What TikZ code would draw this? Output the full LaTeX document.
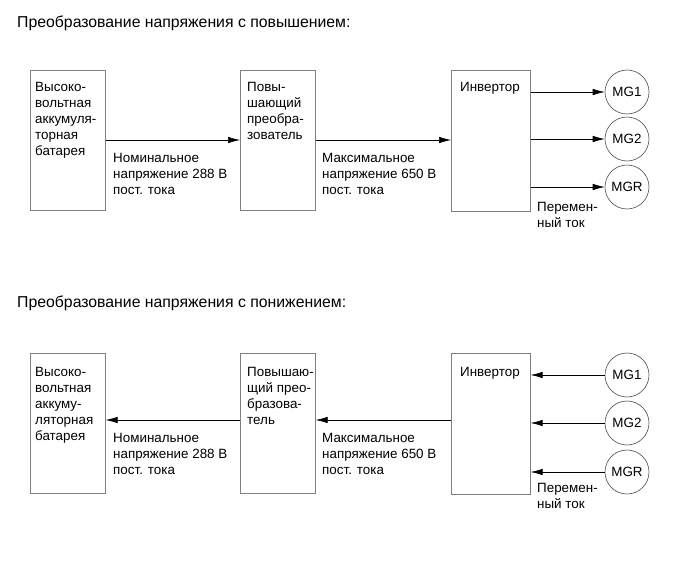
\documentclass[tikz,border=0pt]{standalone}
\usepackage{fontspec}
\setmainfont{Liberation Sans}
\usetikzlibrary{arrows.meta}
\begin{document}
\begin{tikzpicture}[x=1pt,y=-1pt,
 box/.style={draw=black!50, line width=0.7pt, minimum width=75pt, minimum height=140pt, inner sep=0pt, anchor=north west},
 mg/.style={draw=black!70, line width=0.6pt, circle, minimum size=44pt, inner sep=0pt, font=\fontsize{13.4}{14}\selectfont},
 txt/.style={anchor=north west, align=left, inner sep=0pt, font=\fontsize{13.4}{16}\selectfont},
 ttl/.style={anchor=north west, inner sep=0pt, font=\fontsize{15.8}{17}\selectfont},
 conn/.style={line width=0.6pt, -{Latex[length=12pt,width=6.5pt]}},
 connr/.style={line width=0.6pt, {Latex[length=12pt,width=6.5pt]}-}
]
\useasboundingbox (0,0) rectangle (690,562);

% ---------- Upper diagram ----------
\node[ttl] (t1) at (17,16) {Преобразование напряжения с повышением:};

\node[box] (bat1) at (30,70) {};
\node[box] (boost1) at (240,70) {};
\node[box, minimum width=79pt, minimum height=141pt] (inv1) at (451,70) {};

\node[txt] (bat1t) at (35,82) {Высоко-\\вольтная\\аккумуля-\\торная\\батарея};
\node[txt] (boost1t) at (247,82) {Повы-\\шающий\\преобра-\\зователь};
\node[txt] (inv1t) at (460,82) {Инвертор};

\node[mg] (mg1a) at (627,92) {MG1};
\node[mg] (mg2a) at (627,139) {MG2};
\node[mg] (mgra) at (627,187) {MGR};

\draw[conn] (bat1.east |- 0,140) -- (boost1.west |- 0,140);
\draw[conn] (boost1.east |- 0,140) -- (inv1.west |- 0,140);
\draw[conn] (inv1.east |- mg1a) -- (mg1a.west);
\draw[conn] (inv1.east |- mg2a) -- (mg2a.west);
\draw[conn] (inv1.east |- mgra) -- (mgra.west);

\node[txt] (lab1a) at (113,153) {Номинальное\\напряжение 288 В\\пост. тока};
\node[txt] (lab2a) at (322,153) {Максимальное\\напряжение 650 В\\пост. тока};
\node[txt] (lab3a) at (537,202) {Перемен-\\ный ток};

% ---------- Lower diagram ----------
\node[ttl] (t2) at (17,296) {Преобразование напряжения с понижением:};

\node[box] (bat2) at (30,353) {};
\node[box] (boost2) at (240,353) {};
\node[box, minimum width=79pt, minimum height=141pt] (inv2) at (451,353) {};

\node[txt] (bat2t) at (35,367) {Высоко-\\вольтная\\аккуму-\\ляторная\\батарея};
\node[txt] (boost2t) at (247,367) {Повышаю-\\щий прео-\\бразова-\\тель};
\node[txt] (inv2t) at (460,367) {Инвертор};

\node[mg] (mg1b) at (627,375) {MG1};
\node[mg] (mg2b) at (627,423) {MG2};
\node[mg] (mgrb) at (627,472) {MGR};

\draw[connr] (bat2.east |- 0,420) -- (boost2.west |- 0,420);
\draw[connr] (boost2.east |- 0,420) -- (inv2.west |- 0,420);
\draw[connr] (inv2.east |- mg1b) -- (mg1b.west);
\draw[connr] (inv2.east |- mg2b) -- (mg2b.west);
\draw[connr] (inv2.east |- mgrb) -- (mgrb.west);

\node[txt] (lab1b) at (113,433) {Номинальное\\напряжение 288 В\\пост. тока};
\node[txt] (lab2b) at (322,433) {Максимальное\\напряжение 650 В\\пост. тока};
\node[txt] (lab3b) at (537,483) {Перемен-\\ный ток};
\end{tikzpicture}
\end{document}
